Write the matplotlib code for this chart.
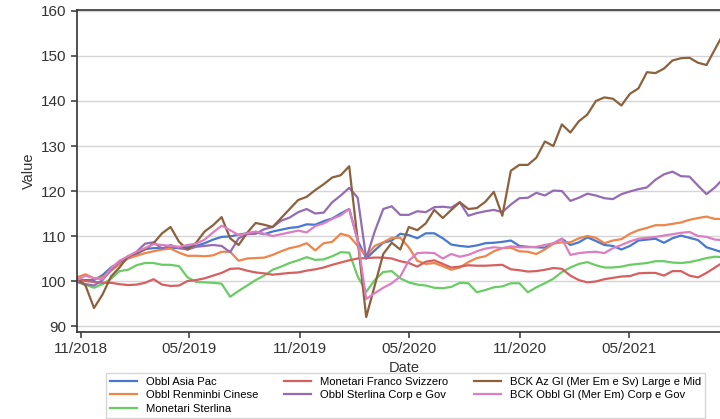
import matplotlib
matplotlib.use("Agg")
from matplotlib import pyplot as plt
import matplotlib.dates as mdates
import pandas as pd

# fortnightly sampling of the series
dates = pd.date_range("2018-10-26", "2021-10-20", periods=78)

asia_pac = [100.3, 100.2, 100.2, 101.3, 103.0, 104.2, 105.2, 106.0, 107.1, 107.3,
            107.3, 107.4, 107.3, 107.5, 107.8, 108.4, 109.2, 109.8, 109.9, 110.3,
            110.6, 110.8, 110.4, 111.0, 111.4, 111.8, 112.0, 112.6, 112.5, 113.3,
            113.9, 115.0, 116.0, 109.0, 105.0, 106.8, 108.5, 109.0, 110.5, 110.2,
            109.5, 110.6, 110.6, 109.5, 108.1, 107.8, 107.6, 107.9, 108.4, 108.5,
            108.7, 109.0, 107.8, 107.6, 107.5, 107.4, 108.3, 109.4, 108.0, 108.6,
            109.7, 108.9, 108.0, 107.8, 107.0, 107.8, 109.0, 109.2, 109.4, 108.5,
            109.5, 110.1, 109.6, 109.1, 107.5, 106.9, 106.3, 106.0]

renminbi = [100.8, 101.5, 100.6, 100.8, 102.3, 103.7, 105.0, 105.6, 106.2, 106.6,
            107.0, 107.2, 106.3, 105.6, 105.6, 105.5, 105.7, 106.5, 106.5, 104.5,
            105.0, 105.1, 105.2, 105.8, 106.6, 107.3, 107.7, 108.4, 106.8, 108.4,
            108.7, 110.5, 110.0, 107.8, 105.5, 107.8, 108.6, 109.6, 109.6, 107.5,
            104.5, 103.8, 104.0, 103.3, 102.5, 103.0, 104.2, 105.1, 105.5, 106.6,
            107.3, 107.4, 106.6, 106.5, 106.0, 107.0, 108.3, 108.6, 108.6, 109.5,
            110.0, 109.6, 108.4, 109.0, 109.3, 110.5, 111.3, 111.8, 112.4, 112.4,
            112.7, 113.0, 113.6, 114.0, 114.3, 113.8, 113.8, 113.8]

sterlina_mon = [99.8, 99.2, 98.5, 99.3, 100.5, 102.2, 102.5, 103.5, 104.0, 104.0,
                103.6, 103.6, 103.3, 100.8, 99.8, 99.7, 99.6, 99.4, 96.5, 97.8,
                99.0, 100.2, 101.2, 102.5, 103.2, 104.0, 104.6, 105.3, 104.7, 104.8,
                105.5, 106.4, 106.3, 101.0, 97.6, 100.2, 102.0, 102.2, 100.6, 99.7,
                99.2, 99.0, 98.5, 98.4, 98.7, 99.6, 99.5, 97.5, 98.0, 98.6,
                98.8, 99.5, 99.5, 97.5, 98.6, 99.5, 100.5, 102.0, 103.0, 103.8,
                104.2, 103.5, 103.0, 103.0, 103.2, 103.6, 103.8, 104.0, 104.4, 104.4,
                104.1, 104.0, 104.2, 104.6, 105.1, 105.4, 105.3, 105.2]

franco_svizzero = [100.3, 100.0, 99.8, 99.6, 99.6, 99.3, 99.1, 99.2, 99.6, 100.4,
                   99.2, 98.9, 99.0, 100.0, 100.2, 100.6, 101.2, 101.8, 102.7, 102.8,
                   102.3, 101.9, 101.7, 101.4, 101.6, 101.8, 101.9, 102.3, 102.6, 103.0,
                   103.6, 104.1, 104.6, 105.0, 105.1, 105.2, 105.2, 105.0, 104.4, 104.0,
                   103.2, 104.3, 104.6, 103.8, 103.0, 103.2, 103.5, 103.4, 103.4, 103.5,
                   103.6, 102.6, 102.4, 102.1, 102.2, 102.5, 102.9, 102.7, 101.2, 100.2,
                   99.7, 99.9, 100.4, 100.7, 101.0, 101.1, 101.7, 101.8, 101.8, 101.2,
                   102.2, 102.2, 101.2, 100.8, 101.8, 103.0, 104.2, 104.5]

sterlina_corp = [99.8, 99.3, 99.0, 100.2, 102.5, 104.3, 105.2, 106.5, 108.3, 108.6,
                 107.2, 108.0, 107.3, 107.0, 107.6, 107.8, 108.0, 107.8, 106.4, 109.5,
                 110.4, 110.5, 111.5, 112.0, 113.4, 114.1, 115.3, 116.0, 115.0, 115.2,
                 117.5, 119.0, 120.7, 118.5, 105.0, 111.0, 116.0, 116.6, 114.7, 114.7,
                 115.5, 115.3, 116.4, 116.5, 116.3, 117.5, 114.5, 115.1, 115.5, 115.8,
                 115.3, 117.0, 118.4, 118.5, 119.6, 119.0, 120.1, 120.0, 117.8, 118.5,
                 119.4, 119.0, 118.4, 118.2, 119.3, 119.9, 120.4, 120.8, 122.5, 123.7,
                 124.3, 123.3, 123.2, 121.2, 119.3, 120.8, 122.8, 123.0]

az_large_mid = [100.5, 99.0, 94.0, 97.0, 101.0, 103.0, 105.5, 106.3, 107.0, 108.4,
                110.6, 112.0, 108.7, 107.0, 108.5, 111.0, 112.4, 114.2, 109.5, 108.0,
                110.7, 112.9, 112.5, 112.0, 114.0, 116.0, 118.0, 118.7, 120.2, 121.5,
                123.0, 123.5, 125.5, 109.0, 92.0, 99.0, 106.0, 108.5, 107.0, 112.0,
                111.3, 112.8, 115.8, 114.0, 115.8, 117.5, 116.0, 116.2, 117.6, 119.8,
                114.5, 124.5, 125.8, 125.8, 127.4, 131.0, 130.0, 134.8, 133.0, 135.5,
                137.0, 140.0, 140.8, 140.5, 139.0, 141.6, 142.8, 146.4, 146.2, 147.2,
                149.0, 149.5, 149.6, 148.5, 148.0, 151.5, 155.0, 157.0]

obbl_mer_em = [100.2, 101.2, 100.6, 100.4, 102.8, 104.5, 105.5, 106.5, 107.3, 108.2,
               108.0, 107.8, 107.6, 108.0, 108.3, 109.2, 110.8, 112.3, 111.3, 110.2,
               110.6, 111.0, 110.5, 110.0, 110.4, 110.8, 111.2, 110.8, 112.2, 112.8,
               113.8, 114.6, 116.0, 109.0, 96.0, 97.3, 98.5, 99.5, 101.0, 104.5,
               106.2, 106.3, 106.2, 105.0, 106.0, 105.4, 105.8, 106.6, 107.2, 107.5,
               107.3, 107.7, 107.5, 107.5, 107.6, 108.0, 108.4, 109.4, 105.8, 106.2,
               106.4, 106.5, 106.2, 107.3, 108.0, 108.8, 109.4, 109.6, 109.8, 110.1,
               110.4, 110.7, 110.9, 110.0, 109.8, 109.2, 109.1, 109.2]

series = [
    ("Obbl Asia Pac", asia_pac, "#4878d0"),
    ("Obbl Renminbi Cinese", renminbi, "#ee854a"),
    ("Monetari Sterlina", sterlina_mon, "#6acc64"),
    ("Monetari Franco Svizzero", franco_svizzero, "#d65f5f"),
    ("Obbl Sterlina Corp e Gov", sterlina_corp, "#956cb4"),
    ("BCK Az Gl (Mer Em e Sv) Large e Mid", az_large_mid, "#8c613c"),
    ("BCK Obbl Gl (Mer Em) Corp e Gov", obbl_mer_em, "#dc7ec0"),
]
tick_dates = pd.to_datetime(["2018-11-01", "2019-05-01", "2019-11-01",
                             "2020-05-01", "2020-11-01", "2021-05-01"])


def main():
    plt.rcParams["font.family"] = ["Liberation Sans", "DejaVu Sans"]
    fig = plt.figure(figsize=(7.2, 4.19), dpi=100)
    # axes run past the right edge of the image, as in the original crop
    ax = fig.add_axes([77 / 720, 1 - 332 / 419, 655 / 720, 322 / 419])

    for name, vals, col in series:
        ax.plot(dates, vals, color=col, lw=1.6, label=name)

    ax.set_xlim(dates[0], dates[-1])
    ax.set_ylim(88.67, 160.22)
    ax.set_yticks(range(90, 161, 10))
    ax.set_xticks(tick_dates)
    ax.xaxis.set_major_formatter(mdates.DateFormatter("%m/%Y"))
    ax.yaxis.grid(True, color="#d5d5d5", lw=1)
    ax.set_axisbelow(True)
    for s in ax.spines.values():
        s.set_color("#333333")
        s.set_linewidth(1.2)
    ax.tick_params(labelsize=11, colors="#333333", length=4, width=1.1)
    ax.set_xlabel("Date", fontsize=10.5, color="#333333", labelpad=3)
    ax.set_ylabel("Value", fontsize=10.5, color="#333333")

    ax.legend(loc="upper center", bbox_to_anchor=(0.502, -0.127), ncol=3,
              fontsize=8.1, frameon=True, edgecolor="#cccccc", fancybox=False,
              columnspacing=2.3, handlelength=2.4, labelspacing=0.3,
              borderaxespad=0, borderpad=0.35)
    fig.savefig("out.png", dpi=100)


if __name__ == "__main__":
    main()
